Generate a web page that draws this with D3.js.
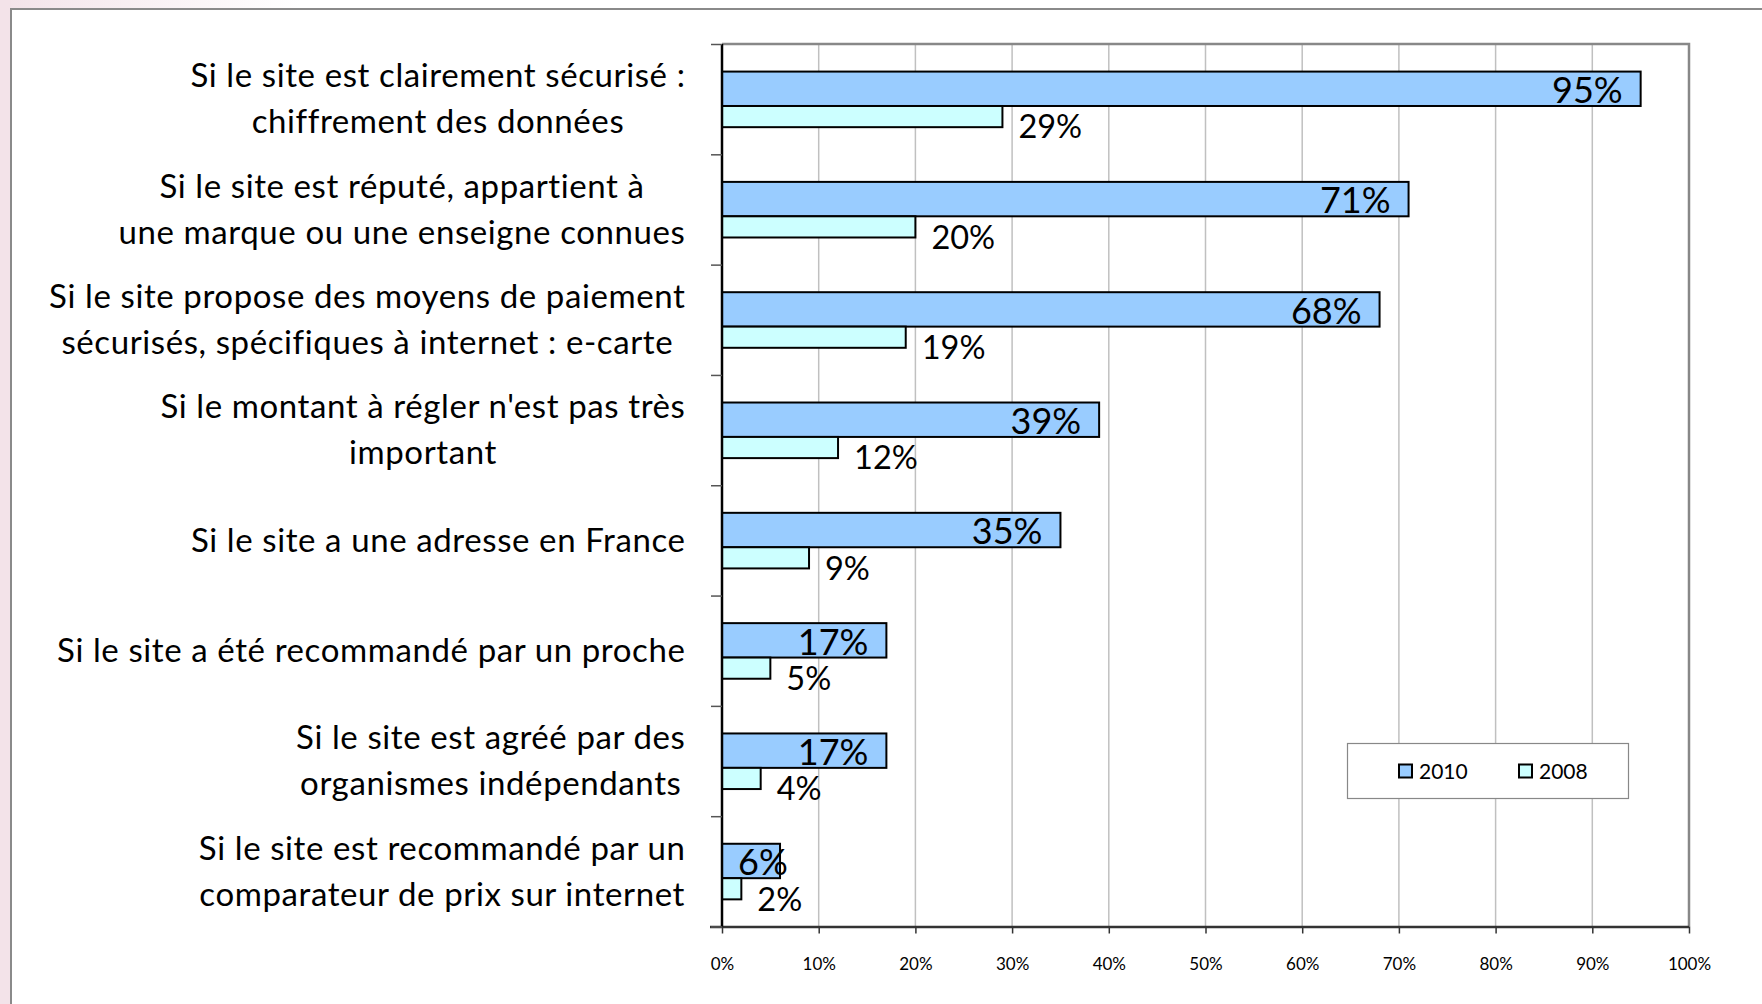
<!DOCTYPE html>
<html><head><meta charset="utf-8">
<script src="https://cdn.jsdelivr.net/npm/d3@7"></script>
<style>
html,body{margin:0;padding:0;background:#fff;}
svg{display:block;font-family:Lato, "Open Sans", sans-serif;}
</style></head>
<body>
<svg id="chart" width="1762" height="1004"></svg>
<script>
// ---- data ----
const categories = [
  ["Si le site est clairement sécurisé :", "chiffrement des données"],
  ["Si le site est réputé, appartient à", "une marque ou une enseigne connues"],
  ["Si le site propose des moyens de paiement", "sécurisés, spécifiques à internet : e-carte"],
  ["Si le montant à régler n'est pas très", "important"],
  ["Si le site a une adresse en France"],
  ["Si le site a été recommandé par un proche"],
  ["Si le site est agréé par des", "organismes indépendants"],
  ["Si le site est recommandé par un", "comparateur de prix sur internet"]
];
const values2010 = [95, 71, 68, 39, 35, 17, 17, 6];
const values2008 = [29, 20, 19, 12, 9, 5, 4, 2];
const seriesNames = ["2010", "2008"];
const xTicks = [0, 10, 20, 30, 40, 50, 60, 70, 80, 90, 100];

// ---- layout ----
const W = 1762, H = 1004;
const plot = {left: 722, right: 1689, top: 44, bottom: 926.5};
const colors = {"2010": "#99ccff", "2008": "#ccffff"};

const svg = d3.select("#chart");

// background decorations
const defs = svg.append("defs");
const grad = defs.append("linearGradient").attr("id", "pinkGrad").attr("x1", "0").attr("x2", "1").attr("y1", "0").attr("y2", "0");
grad.append("stop").attr("offset", "0").attr("stop-color", "#f3e3e9");
grad.append("stop").attr("offset", "1").attr("stop-color", "#ffffff");
svg.append("rect").attr("x", 0).attr("y", 0).attr("width", 300).attr("height", 9).attr("fill", "url(#pinkGrad)");
svg.append("rect").attr("x", 0).attr("y", 0).attr("width", 11).attr("height", H).attr("fill", "#f3e3e9");
// outer frame
svg.append("path").attr("d", `M11,${H} L11,9 L${W},9`).attr("fill", "none").attr("stroke", "#8a8a8a").attr("stroke-width", 2);

// scales
const x = d3.scaleLinear().domain([0, 100]).range([plot.left, plot.right]);
const y = d3.scaleBand().domain(d3.range(categories.length)).range([plot.top, plot.bottom]).padding(0);
const yEdge = d3.scaleLinear().domain([0, categories.length]).range([plot.top, plot.bottom]);
const bw = y.bandwidth();

// gridlines
svg.append("g").selectAll("line").data(xTicks.filter(d => d > 0 && d < 100)).join("line")
  .attr("x1", d => x(d)).attr("x2", d => x(d))
  .attr("y1", plot.top).attr("y2", plot.bottom)
  .attr("stroke", "#c0c0c0").attr("stroke-width", 1.5);

// plot top/right border
svg.append("path").attr("d", `M${plot.left},${plot.top} L${plot.right},${plot.top} L${plot.right},${plot.bottom}`)
  .attr("fill", "none").attr("stroke", "#888888").attr("stroke-width", 2.5);

// bars 2010
svg.append("g").selectAll("rect").data(values2010).join("rect")
  .attr("x", x(0)).attr("y", (d, i) => y(i) + bw * 0.25)
  .attr("width", d => x(d) - x(0)).attr("height", bw * 0.312)
  .attr("fill", colors["2010"]).attr("stroke", "#000").attr("stroke-width", 2);
// bars 2008
svg.append("g").selectAll("rect").data(values2008).join("rect")
  .attr("x", x(0)).attr("y", (d, i) => y(i) + bw * 0.562)
  .attr("width", d => x(d) - x(0)).attr("height", bw * 0.192)
  .attr("fill", colors["2008"]).attr("stroke", "#000").attr("stroke-width", 2);

// axes
const xAxis = svg.append("g").attr("transform", `translate(0,${plot.bottom})`)
  .call(d3.axisBottom(x).tickValues(xTicks).tickSize(7).tickPadding(24).tickFormat(d => d + "%"));
xAxis.select(".domain").attr("stroke", "#333").attr("stroke-width", 2.5).attr("d", `M${plot.left - 12},0.5H${plot.right}`);
xAxis.selectAll(".tick line").attr("stroke", "#333").attr("stroke-width", 1.5);
xAxis.selectAll(".tick text").attr("font-size", 17).attr("fill", "#000").attr("font-family", "Lato");

const yAxis = svg.append("g").attr("transform", `translate(${plot.left},0)`)
  .call(d3.axisLeft(yEdge).tickValues(d3.range(categories.length + 1)).tickSize(11).tickFormat(""));
yAxis.select(".domain").attr("stroke", "#000").attr("stroke-width", 2.5).attr("d", `M0,${plot.top}V${plot.bottom}`);
yAxis.selectAll(".tick line").attr("stroke", "#555").attr("stroke-width", 1.5);

// category labels (lines centred within a right-aligned block)
const labelRight = 685.5, lineH = 46, catFont = 33;
categories.forEach((lines, i) => {
  const g = svg.append("g");
  const texts = lines.map((ln, k) => g.append("text").text(ln)
    .attr("font-size", catFont).attr("letter-spacing", 0.6).attr("fill", "#000").attr("text-anchor", "middle"));
  const maxW = d3.max(texts, t => t.node().getComputedTextLength());
  const cx = labelRight - maxW / 2;
  const cy = y(i) + bw / 2;
  texts.forEach((t, k) => {
    const lineCenter = cy + (k - (lines.length - 1) / 2) * lineH;
    t.attr("x", cx).attr("y", lineCenter + catFont * 0.34);
  });
});

// data labels 2010 (inside end)
svg.append("g").selectAll("text").data(values2010).join("text")
  .text(d => d + "%")
  .attr("font-size", 36).attr("fill", "#000").attr("text-anchor", "end")
  .attr("y", (d, i) => y(i) + bw * 0.25 + bw * 0.312 - 3)
  .each(function (d) {
    const w = this.getComputedTextLength();
    d3.select(this).attr("x", Math.max(x(d) - 18, x(0) + 16 + w));
  });

// data labels 2008 (outside end, slightly below)
svg.append("g").selectAll("text").data(values2008).join("text")
  .text(d => d + "%")
  .attr("font-size", 32.5).attr("fill", "#000").attr("text-anchor", "start")
  .attr("x", d => x(d) + 16)
  .attr("y", (d, i) => y(i) + bw * 0.855);

// legend
const lg = svg.append("g");
lg.append("rect").attr("x", 1347.5).attr("y", 743.5).attr("width", 281).attr("height", 55)
  .attr("fill", "#fff").attr("stroke", "#888").attr("stroke-width", 1.2);
const legX = [1399, 1519];
seriesNames.forEach((s, k) => {
  lg.append("rect").attr("x", legX[k]).attr("y", 764.5).attr("width", 13).attr("height", 13)
    .attr("fill", colors[s]).attr("stroke", "#000").attr("stroke-width", 2);
  lg.append("text").attr("x", legX[k] + 20).attr("y", 779).text(s)
    .attr("font-size", 21).attr("fill", "#000");
});
</script>
</body></html>
